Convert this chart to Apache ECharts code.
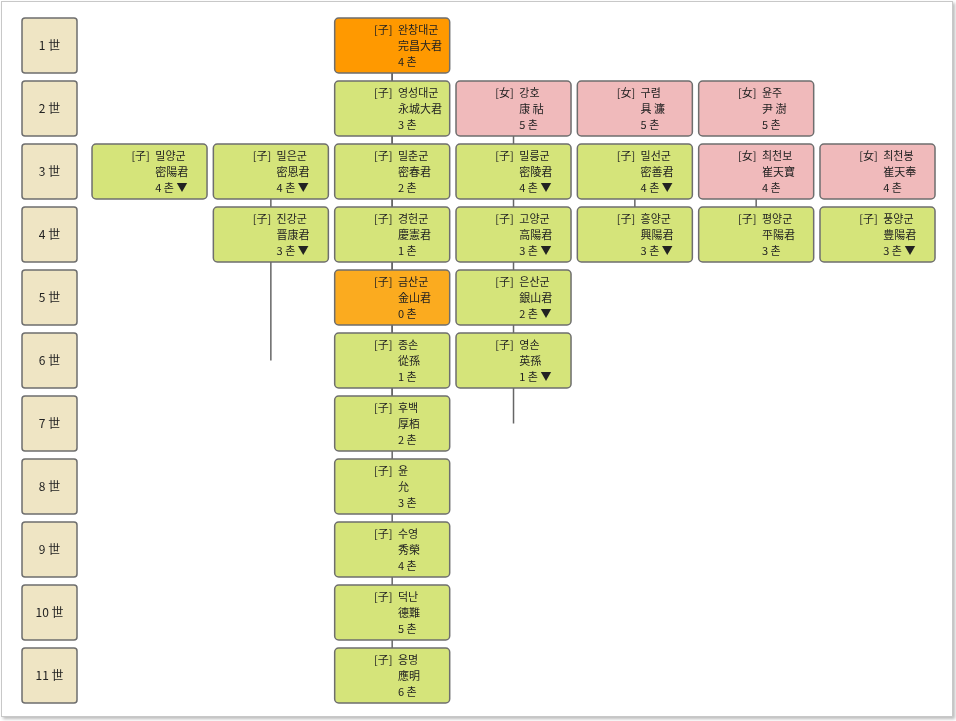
<!DOCTYPE html>
<html><head><meta charset="utf-8">
<script src="https://cdn.jsdelivr.net/npm/echarts@6/dist/echarts.min.js"></script>
<style>html,body{margin:0;padding:0;background:#fff}
#c{width:956px;height:721px;position:relative}
#f{position:absolute;left:1px;top:1px;width:950px;height:714px;border:1px solid #c8c8c8;box-shadow:2px 2px 3px #bbb;pointer-events:none}</style>
</head><body><div id="c"></div><div id="f"></div>
<script>
const genLabels = ['1 世','2 世','3 世','4 世','5 世','6 世','7 世','8 世','9 世','10 世','11 世'];
const gens   = [0,1,1,1,1, 2,2,2,2,2,2,2, 3,3,3,3,3,3, 4,4, 5,5, 6,7,8,9,10];
const cols   = [2,2,3,4,5, 0,1,2,3,4,5,6, 1,2,3,4,5,6, 2,3, 2,3, 2,2,2,2,2];
const sexes  = ['子','子','女','女','女', '子','子','子','子','子','女','女', '子','子','子','子','子','子', '子','子', '子','子', '子','子','子','子','子'];
const names  = ['완창대군','영성대군','강호','구렴','윤주', '밀양군','밀은군','밀춘군','밀릉군','밀선군','최천보','최천봉', '진강군','경헌군','고양군','흥양군','평양군','풍양군', '금산군','은산군', '종손','영손', '후백','윤','수영','덕난','응명'];
const hanja  = ['完昌大君','永城大君','康 祜','具 濂','尹 澍', '密陽君','密恩君','密春君','密陵君','密善君','崔天寶','崔天奉', '晋康君','慶憲君','高陽君','興陽君','平陽君','豊陽君', '金山君','銀山君', '從孫','英孫', '厚栢','允','秀榮','德難','應明'];
const chon   = [4,3,5,5,5, 4,4,2,4,4,4,4, 3,1,3,3,3,3, 0,2, 1,1, 2,3,4,5,6];
const more   = [0,0,0,0,0, 1,1,0,1,1,0,0, 1,0,1,1,0,1, 0,1, 0,1, 0,0,0,0,0];
const status = ['root','n','n','n','n', 'n','n','n','n','n','n','n', 'n','n','n','n','n','n', 'self','n', 'n','n', 'n','n','n','n','n'];
// horizontal connector spans: [generation, fromCol, toCol]
const hLinks = [[1,2,5],[2,0,6],[3,1,6],[4,2,3],[5,2,3]];
const vLink = [2, 0, 10]; // column, fromGen, toGen

const FONT = '11px "Noto Sans CJK KR", sans-serif';
function fillOf(i){
  if(status[i]==='root') return '#ff9900';
  if(status[i]==='self') return '#fbab1f';
  return sexes[i]==='女' ? '#f0babb' : '#d5e47a';
}
const chart = echarts.init(document.getElementById('c'), null, {renderer:'canvas'});
const nodeData = gens.map((g,i)=>[cols[i], g, i]);
chart.setOption({
  animation:false,
  grid:[{left:28.2,right:5.7,top:14,bottom:14},{left:22,width:55,top:14,bottom:14}],
  xAxis:[{type:'value',min:-1,max:6.6,show:false,gridIndex:0},{type:'value',min:0,max:1,show:false,gridIndex:1}],
  yAxis:[{type:'value',min:-0.5,max:10.5,inverse:true,show:false,gridIndex:0},{type:'value',min:-0.5,max:10.5,inverse:true,show:false,gridIndex:1}],
  series:[
    {type:'custom',xAxisIndex:0,yAxisIndex:0,z:1,
     data:[...hLinks.map(h=>['h',h[0],h[1],h[2]]), ['v',vLink[0],vLink[1],vLink[2]]],
     renderItem:(p,api)=>{
       const t=api.value(0);
       let a,b;
       if(t==='h'){a=api.coord([api.value(2),api.value(1)]);b=api.coord([api.value(3),api.value(1)]);}
       else {a=api.coord([api.value(1),api.value(2)]);b=api.coord([api.value(1),api.value(3)]);}
       return {type:'line',shape:{x1:a[0],y1:a[1],x2:b[0],y2:b[1]},style:{stroke:'#666',lineWidth:1.5}};
     }},
    {type:'custom',xAxisIndex:0,yAxisIndex:0,z:2,data:nodeData,
     renderItem:(p,api)=>{
       const i=api.value(2);
       const c=api.coord([api.value(0),api.value(1)]);
       const s=api.size([1,1]);
       const w=s[0]*0.948, h=s[1]*0.873;
       const x0=c[0]-w/2, y0=c[1]-h/2;
       const tx=x0+w*0.55;
       return {type:'group',children:[
         {type:'rect',shape:{x:x0,y:y0,width:w,height:h,r:4},style:{fill:fillOf(i),stroke:'#6e6e6e',lineWidth:1.5}},
         {type:'text',x:tx-3,y:y0+h*0.22,style:{text:'['+sexes[i]+'] ',font:FONT,fill:'#222',align:'right',verticalAlign:'middle'}},
         {type:'text',x:tx,y:y0+h*0.22,style:{text:names[i],font:FONT,fill:'#222',align:'left',verticalAlign:'middle'}},
         {type:'text',x:tx,y:y0+h*0.51,style:{text:hanja[i],font:FONT,fill:'#222',align:'left',verticalAlign:'middle'}},
         {type:'text',x:tx,y:y0+h*0.8,style:{text:chon[i]+' 촌'+(more[i]?' ▼':''),font:FONT,fill:'#222',align:'left',verticalAlign:'middle'}}
       ]};
     }},
    {type:'custom',xAxisIndex:1,yAxisIndex:1,z:2,data:genLabels.map((l,g)=>[0.5,g]),
     renderItem:(p,api)=>{
       const g=api.value(1);
       const c=api.coord([0.5,g]);
       const s=api.size([1,1]);
       const w=s[0], h=s[1]*0.873;
       return {type:'group',children:[
         {type:'rect',shape:{x:c[0]-w/2,y:c[1]-h/2,width:w,height:h,r:3},style:{fill:'#efe5c4',stroke:'#6e6e6e',lineWidth:1.5}},
         {type:'text',x:c[0],y:c[1],style:{text:genLabels[g],font:'12px "Noto Sans CJK KR", sans-serif',fill:'#222',align:'center',verticalAlign:'middle'}}
       ]};
     }}
  ]
});
</script></body></html>
